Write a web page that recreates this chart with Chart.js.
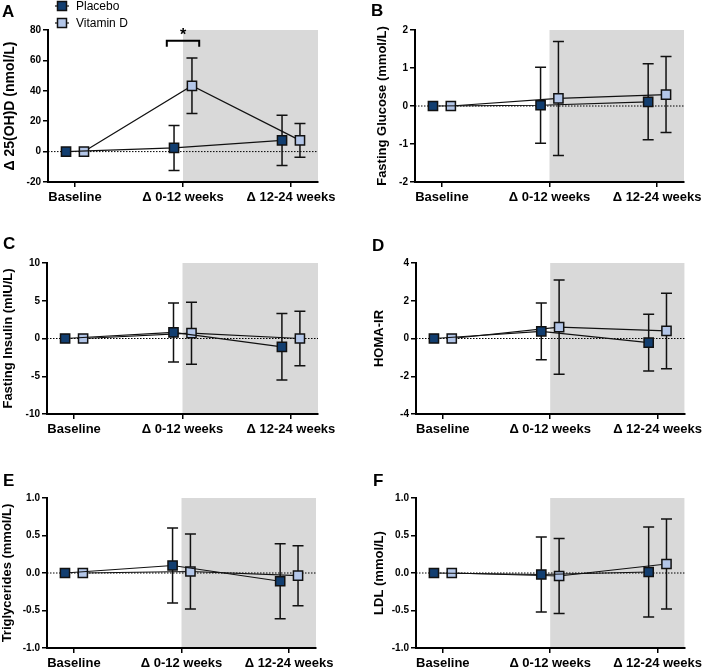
<!DOCTYPE html>
<html>
<head>
<meta charset="utf-8">
<script src="https://cdn.jsdelivr.net/npm/chart.js@4.4.1/dist/chart.umd.min.js"></script>
<style>
  body { margin: 0; background: #ffffff; width: 707px; height: 671px; position: relative; overflow: hidden; }
  canvas { position: absolute; }
</style>
</head>
<body>
<canvas id="panelA" width="354" height="220" style="left:0px;top:0px"></canvas>
<canvas id="panelB" width="353" height="220" style="left:354px;top:0px"></canvas>
<canvas id="panelC" width="354" height="225" style="left:0px;top:220px"></canvas>
<canvas id="panelD" width="353" height="225" style="left:354px;top:220px"></canvas>
<canvas id="panelE" width="354" height="226" style="left:0px;top:445px"></canvas>
<canvas id="panelF" width="353" height="226" style="left:354px;top:445px"></canvas>
<script>
const categories = ["Baseline", "Δ 0-12 weeks", "Δ 12-24 weeks"];
const seriesNames = ["Placebo", "Vitamin D"];

// mean change and SD per time point
const ohdPlacebo = [0, 2.4, 7.4];
const ohdPlaceboSd = [0, 14.8, 16.5];
const ohdVitD = [0, 43.3, 7.4];
const ohdVitDSd = [0, 18.3, 11.1];
const ohdTicks = [-20, 0, 20, 40, 60, 80];

const glucosePlacebo = [0, 0.02, 0.11];
const glucosePlaceboSd = [0, 1.0, 1.0];
const glucoseVitD = [0, 0.2, 0.3];
const glucoseVitDSd = [0, 1.5, 1.0];
const glucoseTicks = [-2, -1, 0, 1, 2];

const insulinPlacebo = [0, 0.8, -1.1];
const insulinPlaceboSd = [0, 3.9, 4.4];
const insulinVitD = [0, 0.7, 0];
const insulinVitDSd = [0, 4.1, 3.6];
const insulinTicks = [-10, -5, 0, 5, 10];

const homaPlacebo = [0, 0.38, -0.22];
const homaPlaceboSd = [0, 1.5, 1.5];
const homaVitD = [0, 0.6, 0.4];
const homaVitDSd = [0, 2.5, 2.0];
const homaTicks = [-4, -2, 0, 2, 4];

const tgPlacebo = [0, 0.1, -0.11];
const tgPlaceboSd = [0, 0.5, 0.5];
const tgVitD = [0, 0.02, -0.035];
const tgVitDSd = [0, 0.5, 0.4];
const tgTicks = [-1.0, -0.5, 0, 0.5, 1.0];

const ldlPlacebo = [0, -0.02, 0.013];
const ldlPlaceboSd = [0, 0.5, 0.6];
const ldlVitD = [0, -0.04, 0.12];
const ldlVitDSd = [0, 0.5, 0.6];
const ldlTicks = [-1.0, -0.5, 0, 0.5, 1.0];

// significance bracket in panel A (x in category units, y in nmol/L)
const sigFrom = 0.85;
const sigTo = 1.15;
const sigTop = 73;
const sigLeg = 69;

const placeboColor = "#123e70";
const vitDColor = "#b3c6e8";
const edgeColor = "#111111";
const shadeColor = "#d9d9d9";
const groupOffset = 0.083;

Chart.defaults.font.family = "'Liberation Sans', Arial, sans-serif";
Chart.defaults.color = "#000";

const panels = [
    { id: "panelA", letter: "A", title: "Δ 25(OH)D (nmol/L)", titleSize: 14, placebo: ohdPlacebo, placeboSd: ohdPlaceboSd, vitD: ohdVitD, vitDSd: ohdVitDSd, ticks: ohdTicks, decimals: 0,
      box: { left: 48, right: 318, top: 30, bottom: 182, titlePad: 2 }, letterAt: [2, 17], legend: true, sig: true },
    { id: "panelB", letter: "B", title: "Fasting Glucose (mmol/L)", titleSize: 13, placebo: glucosePlacebo, placeboSd: glucosePlaceboSd, vitD: glucoseVitD, vitDSd: glucoseVitDSd, ticks: glucoseTicks, decimals: 0,
      box: { left: 61, right: 330, top: 30, bottom: 182, titlePad: 21 }, letterAt: [17, 16] },
    { id: "panelC", letter: "C", title: "Fasting Insulin (mIU/L)", titleSize: 13, placebo: insulinPlacebo, placeboSd: insulinPlaceboSd, vitD: insulinVitD, vitDSd: insulinVitDSd, ticks: insulinTicks, decimals: 0,
      box: { left: 47, right: 318, top: 43, bottom: 194, titlePad: 1 }, letterAt: [3, 29] },
    { id: "panelD", letter: "D", title: "HOMA-IR", titleSize: 13, placebo: homaPlacebo, placeboSd: homaPlaceboSd, vitD: homaVitD, vitDSd: homaVitDSd, ticks: homaTicks, decimals: 0,
      box: { left: 62, right: 333, top: 43, bottom: 194, titlePad: 18 }, letterAt: [18, 31] },
    { id: "panelE", letter: "E", title: "Triglycerides (mmol/L)", titleSize: 13, placebo: tgPlacebo, placeboSd: tgPlaceboSd, vitD: tgVitD, vitDSd: tgVitDSd, ticks: tgTicks, decimals: 1,
      box: { left: 47, right: 316, top: 53, bottom: 203, titlePad: 0 }, letterAt: [3, 41] },
    { id: "panelF", letter: "F", title: "LDL (mmol/L)", titleSize: 13, placebo: ldlPlacebo, placeboSd: ldlPlaceboSd, vitD: ldlVitD, vitDSd: ldlVitDSd, ticks: ldlTicks, decimals: 1,
      box: { left: 62, right: 333, top: 53, bottom: 203, titlePad: 18 }, letterAt: [19, 41] }
];

function drawSquare(ctx, x, y, size, fill) {
    ctx.fillStyle = fill;
    ctx.strokeStyle = edgeColor;
    ctx.lineWidth = 1.5;
    ctx.fillRect(x - size / 2, y - size / 2, size, size);
    ctx.strokeRect(x - size / 2, y - size / 2, size, size);
}

const panelDecor = {
    id: "panelDecor",
    beforeDraw(chart) {
        const { ctx, chartArea, scales } = chart;
        const xs = scales.x;
        const ys = scales.y;
        ctx.save();
        const shadeLeft = xs.getPixelForValue(1);
        ctx.fillStyle = shadeColor;
        ctx.fillRect(shadeLeft, chartArea.top, chartArea.right - shadeLeft, chartArea.bottom - chartArea.top);

        const y0 = ys.getPixelForValue(0);
        ctx.strokeStyle = "#000";
        ctx.lineWidth = 1;
        ctx.setLineDash([1.5, 1.5]);
        ctx.beginPath();
        ctx.moveTo(chartArea.left, y0);
        ctx.lineTo(chartArea.right, y0);
        ctx.stroke();
        ctx.restore();
    },
    beforeDatasetsDraw(chart) {
        const { ctx, scales } = chart;
        const ys = scales.y;
        ctx.save();
        ctx.strokeStyle = edgeColor;
        ctx.lineWidth = 1.5;
        chart.data.datasets.forEach((ds, di) => {
            const meta = chart.getDatasetMeta(di);
            meta.data.forEach((pt, i) => {
                const sd = ds.errors[i];
                if (!sd) {
                    return;
                }
                const v = ds.data[i].y;
                const top = ys.getPixelForValue(v + sd);
                const bottom = ys.getPixelForValue(v - sd);
                const cap = 5.5;
                ctx.beginPath();
                ctx.moveTo(pt.x, top);
                ctx.lineTo(pt.x, bottom);
                ctx.moveTo(pt.x - cap, top);
                ctx.lineTo(pt.x + cap, top);
                ctx.moveTo(pt.x - cap, bottom);
                ctx.lineTo(pt.x + cap, bottom);
                ctx.stroke();
            });
        });
        ctx.restore();
    },
    afterDraw(chart, args, opts) {
        const { ctx, scales } = chart;
        ctx.save();
        ctx.fillStyle = "#000";
        ctx.font = "bold 17px 'Liberation Sans', Arial, sans-serif";
        ctx.textBaseline = "alphabetic";
        ctx.textAlign = "left";
        ctx.fillText(opts.letter, opts.letterAt[0], opts.letterAt[1]);

        if (opts.legend) {
            const colors = [placeboColor, vitDColor];
            const rows = [6, 23];
            seriesNames.forEach((name, i) => {
                ctx.strokeStyle = edgeColor;
                ctx.lineWidth = 1.2;
                ctx.beginPath();
                ctx.moveTo(55, rows[i]);
                ctx.lineTo(69, rows[i]);
                ctx.stroke();
                drawSquare(ctx, 62, rows[i], 9, colors[i]);
                ctx.fillStyle = "#000";
                ctx.font = "12px 'Liberation Sans', Arial, sans-serif";
                ctx.textBaseline = "middle";
                ctx.fillText(name, 76, rows[i] + 1);
            });
        }

        if (opts.sig) {
            const xs = scales.x;
            const ys = scales.y;
            const x1 = xs.getPixelForValue(sigFrom);
            const x2 = xs.getPixelForValue(sigTo);
            const yt = ys.getPixelForValue(sigTop);
            const yl = ys.getPixelForValue(sigLeg);
            ctx.strokeStyle = "#000";
            ctx.lineWidth = 2;
            ctx.beginPath();
            ctx.moveTo(x1, yl);
            ctx.lineTo(x1, yt);
            ctx.lineTo(x2, yt);
            ctx.lineTo(x2, yl);
            ctx.stroke();
            ctx.fillStyle = "#000";
            ctx.font = "bold 16px 'Liberation Sans', Arial, sans-serif";
            ctx.textAlign = "center";
            ctx.textBaseline = "alphabetic";
            ctx.fillText("*", (x1 + x2) / 2, yt - 1);
        }
        ctx.restore();
    }
};

function makeDataset(label, values, sds, offset, fill) {
    return {
        label: label,
        data: values.map((v, i) => ({ x: i + offset, y: v })),
        errors: sds,
        borderColor: edgeColor,
        borderWidth: 1.2,
        tension: 0,
        fill: false,
        clip: false,
        pointStyle: "rect",
        pointRadius: 6.5,
        pointBackgroundColor: fill,
        pointBorderColor: edgeColor,
        pointBorderWidth: 1.5
    };
}

panels.forEach(p => {
    const canvas = document.getElementById(p.id);
    const W = canvas.width;
    const H = canvas.height;
    const box = p.box;

    new Chart(canvas, {
        type: "line",
        data: {
            datasets: [
                makeDataset(seriesNames[0], p.placebo, p.placeboSd, -groupOffset, placeboColor),
                makeDataset(seriesNames[1], p.vitD, p.vitDSd, groupOffset, vitDColor)
            ]
        },
        options: {
            responsive: false,
            animation: false,
            layout: {
                padding: { left: box.titlePad, right: W - box.right, top: box.top, bottom: 0 }
            },
            plugins: {
                legend: { display: false },
                tooltip: { enabled: false },
                panelDecor: { letter: p.letter, letterAt: p.letterAt, legend: p.legend === true, sig: p.sig === true }
            },
            scales: {
                x: {
                    type: "linear",
                    min: -0.25,
                    max: 2.25,
                    afterBuildTicks: s => { s.ticks = categories.map((c, i) => ({ value: i })); },
                    afterFit: s => { s.height = H - box.bottom; },
                    border: { color: "#000", width: 2 },
                    grid: { drawOnChartArea: false, drawTicks: true, tickLength: 5, color: "#000", lineWidth: 1.5 },
                    ticks: {
                        autoSkip: false,
                        maxRotation: 0,
                        padding: 3,
                        color: "#000",
                        font: { size: 13, weight: "bold" },
                        callback: v => categories[v]
                    }
                },
                y: {
                    min: p.ticks[0],
                    max: p.ticks[p.ticks.length - 1],
                    afterBuildTicks: s => { s.ticks = p.ticks.map(v => ({ value: v })); },
                    afterFit: s => { s.width = box.left - box.titlePad; },
                    border: { color: "#000", width: 2 },
                    grid: { drawOnChartArea: false, drawTicks: true, tickLength: 5, color: "#000", lineWidth: 1.5 },
                    ticks: {
                        padding: 2,
                        color: "#000",
                        font: { size: 10, weight: "bold" },
                        callback: v => Number(v).toFixed(p.decimals)
                    },
                    title: {
                        display: true,
                        text: p.title,
                        color: "#000",
                        font: { size: p.titleSize, weight: "bold" },
                        padding: { top: 0, bottom: 0 }
                    }
                }
            }
        },
        plugins: [panelDecor]
    });
});
</script>
</body>
</html>
